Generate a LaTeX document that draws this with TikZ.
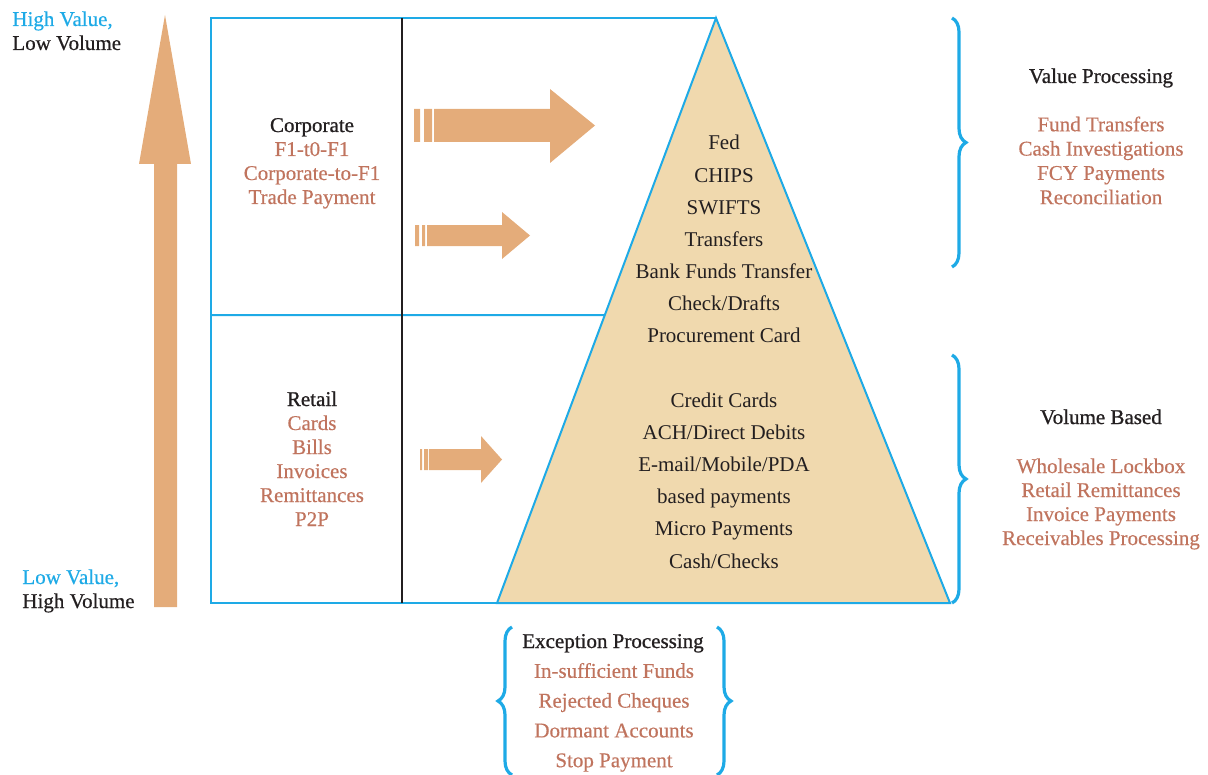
\documentclass[tikz,border=0pt]{standalone}
\usepackage{fontspec}
\setmainfont{Liberation Serif}
\newfontfamily\headfont{Liberation Serif}[FakeBold=0.9]
\newfontfamily\itemfont{Liberation Serif}[FakeBold=0.45]
\usetikzlibrary{calc,decorations.pathreplacing}
\definecolor{lineblue}{RGB}{30,170,230}
\definecolor{arrowtan}{RGB}{228,172,122}
\definecolor{pyrfill}{RGB}{240,217,174}
\definecolor{itembrown}{RGB}{192,116,94}
\definecolor{inkblack}{RGB}{35,31,32}
\tikzset{
  txt/.style={font=\fontsize{10.5}{12}\selectfont, anchor=base, inner sep=0pt},
  chan/.style={txt, text=inkblack},
  head/.style={txt, font=\headfont\fontsize{10.5}{12}\selectfont, text=inkblack},
  item/.style={txt, font=\itemfont\fontsize{10.5}{12}\selectfont, text=itembrown},
  bluebrace/.style={draw=lineblue, line width=1.6pt, decorate,
    decoration={brace, amplitude=7pt}},
}
\begin{document}
\begin{tikzpicture}[x=0.5pt,y=-0.5pt]
  \useasboundingbox (0,0) rectangle (1208,775);
  % value axis
  \fill[arrowtan] (154,607) -- (154,164) -- (139,164) -- (165,15) -- (191,164) -- (177,164) -- (177,607) -- cycle;
  \node[item, anchor=base west, text=lineblue] (hv) at (12,26) {High Value,};
  \node[item, anchor=base west, text=inkblack] (lv) at (12,50) {Low Volume};
  \node[item, anchor=base west, text=lineblue] (lval) at (22,584) {Low Value,};
  \node[item, anchor=base west, text=inkblack] (hvol) at (22,608) {High Volume};

  % pyramid
  \coordinate (apex) at (716,18);
  \coordinate (bl) at (497,603);
  \coordinate (br) at (950,603);
  \filldraw[fill=pyrfill, draw=lineblue, line width=1pt] (apex) -- (bl) -- (br) -- cycle;

  % boxes
  \draw[lineblue, line width=1pt] (apex) -- (211,18) -- (211,603) -- (bl);
  \draw[lineblue, line width=1pt] (211,315) -- ($(apex)!{297/585}!(bl)$);
  \draw[inkblack, line width=0.8pt] (402,18) -- (402,603);

  % flow arrows
  \fill[arrowtan] (414,109) rectangle (420,142) (424,109) rectangle (432,142);
  \fill[arrowtan] (434,109) -- (550,109) -- (550,89) -- (595,125.5) -- (550,163) -- (550,142) -- (434,142) -- cycle;
  \fill[arrowtan] (415,225) rectangle (419,246) (422,225) rectangle (425,246);
  \fill[arrowtan] (427,225) -- (502,225) -- (502,212) -- (530,235.5) -- (502,259) -- (502,246) -- (427,246) -- cycle;
  \fill[arrowtan] (420,449) rectangle (422,470) (424,449) rectangle (428,470);
  \fill[arrowtan] (429,449) -- (481,449) -- (481,436) -- (502,459.5) -- (481,483) -- (481,470) -- (429,470) -- cycle;

  % segments
  \node[head] (corp) at (312,132) {Corporate};
  \foreach \t [count=\i] in {F1-t0-F1, Corporate-to-F1, Trade Payment}
    \node[item] (corp\i) at (312,132+24*\i) {\t};
  \node[head] (ret) at (312,406) {Retail};
  \foreach \t [count=\i] in {Cards, Bills, Invoices, Remittances, P2P}
    \node[item] (ret\i) at (312,406+24*\i) {\t};

  % channels
  \foreach \t [count=\i from 0] in {Fed, CHIPS, SWIFTS, Transfers, Bank Funds Transfer, Check/Drafts, Procurement Card}
    \node[chan] (hi\i) at (724,150+32.15*\i) {\t};
  \foreach \t [count=\i from 0] in {Credit Cards, ACH/Direct Debits, E-mail/Mobile/PDA, based payments, Micro Payments, Cash/Checks}
    \node[chan] (lo\i) at (724,407+32.2*\i) {\t};

  % processing
  \draw[bluebrace] (952,18) -- (952,267);
  \node[head] (vp) at (1101,83) {Value Processing};
  \foreach \t [count=\i] in {Fund Transfers, Cash Investigations, FCY Payments, Reconciliation}
    \node[item] (vp\i) at (1101,107+24.3*\i) {\t};
  \draw[bluebrace] (952,355) -- (952,603);
  \node[head] (vb) at (1101,424) {Volume Based};
  \foreach \t [count=\i] in {Wholesale Lockbox, Retail Remittances, Invoice Payments, Receivables Processing}
    \node[item] (vb\i) at (1101,449+24*\i) {\t};
  \draw[bluebrace] (512,775) -- (512,627);
  \draw[bluebrace] (717,627) -- (717,775);
  \node[head] (ep) at (613,648) {Exception Processing};
  \foreach \t [count=\i] in {In-sufficient Funds, Rejected Cheques, Dormant Accounts, Stop Payment}
    \node[item] (ep\i) at (614,648+29.8*\i) {\t};
\end{tikzpicture}
\end{document}
